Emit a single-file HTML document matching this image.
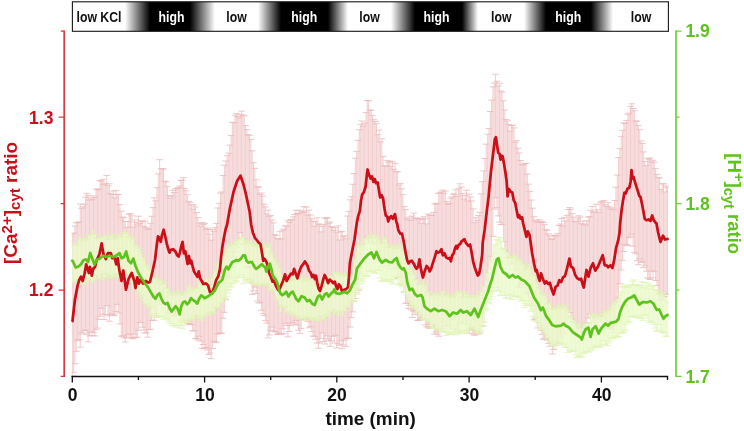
<!DOCTYPE html>
<html><head><meta charset="utf-8"><title>KCl ratio chart</title>
<style>html,body{margin:0;padding:0;background:#fff}body{width:744px;height:431px;position:relative;overflow:hidden}</style>
</head><body>
<svg width="744" height="431" viewBox="0 0 744 431" style="position:absolute;left:0;top:0">
<defs><linearGradient id="kcl" gradientUnits="userSpaceOnUse" x1="72" y1="0" x2="669" y2="0">
<stop offset="0.0000" stop-color="#fff"/>
<stop offset="0.0888" stop-color="#fff"/>
<stop offset="0.1307" stop-color="#000"/>
<stop offset="0.1977" stop-color="#000"/>
<stop offset="0.2395" stop-color="#fff"/>
<stop offset="0.3116" stop-color="#fff"/>
<stop offset="0.3501" stop-color="#000"/>
<stop offset="0.4288" stop-color="#000"/>
<stop offset="0.4623" stop-color="#fff"/>
<stop offset="0.5343" stop-color="#fff"/>
<stop offset="0.5745" stop-color="#000"/>
<stop offset="0.6533" stop-color="#000"/>
<stop offset="0.6801" stop-color="#fff"/>
<stop offset="0.7571" stop-color="#fff"/>
<stop offset="0.7940" stop-color="#000"/>
<stop offset="0.8693" stop-color="#000"/>
<stop offset="0.9062" stop-color="#fff"/>
<stop offset="1.0000" stop-color="#fff"/>
</linearGradient><clipPath id="pc"><rect x="71.6" y="32" width="597" height="345"/></clipPath></defs>
<rect x="72.4" y="1.8" width="596" height="29.5" fill="url(#kcl)" stroke="#161616" stroke-width="1.1"/>
<g clip-path="url(#pc)">
<path d="M72.30 233.8V376.0M73.62 233.0V372.3M74.95 226.1V363.7M76.27 222.6V351.4M77.59 222.8V340.7M78.91 221.8V339.5M80.24 204.1V347.2M81.56 208.3V332.7M82.88 206.9V334.1M84.20 204.1V330.1M85.53 197.2V330.6M86.85 193.3V334.1M88.17 195.4V341.8M89.49 200.0V336.0M90.82 198.0V332.1M92.14 199.6V335.6M93.46 196.0V332.4M94.79 197.5V335.9M96.11 189.1V329.7M97.43 189.8V328.1M98.75 189.1V319.4M100.08 180.6V316.2M101.40 181.1V308.2M102.72 179.3V314.2M104.04 184.6V319.5M105.37 183.3V314.6M106.69 175.4V305.7M108.01 185.7V315.8M109.33 183.8V321.2M110.66 193.3V314.2M111.98 194.5V314.2M113.30 191.0V314.9M114.63 197.9V315.7M115.95 190.4V311.5M117.27 194.4V304.3M118.59 194.6V313.0M119.92 204.6V323.9M121.24 211.2V336.2M122.56 217.0V335.9M123.88 217.7V337.9M125.21 221.5V342.0M126.53 227.4V337.9M127.85 221.5V334.9M129.17 214.3V334.1M130.50 213.6V337.2M131.82 215.8V338.3M133.14 227.2V338.8M134.47 219.9V334.1M135.79 222.3V337.5M137.11 224.9V337.2M138.43 216.2V330.2M139.76 223.4V322.6M141.08 220.9V322.4M142.40 221.2V327.3M143.72 226.4V330.0M145.05 221.3V333.1M146.37 227.7V332.7M147.69 229.1V337.2M149.01 229.0V329.7M150.34 223.3V329.3M151.66 216.3V320.4M152.98 207.6V307.9M154.31 197.8V320.3M155.63 200.8V313.3M156.95 187.7V315.9M158.27 173.8V301.3M159.60 159.7V304.0M160.92 168.8V295.1M162.24 168.7V291.6M163.56 169.0V296.0M164.89 181.2V302.3M166.21 181.8V303.6M167.53 186.3V312.5M168.85 195.6V313.6M170.18 198.1V316.1M171.50 196.1V307.0M172.82 190.4V313.6M174.15 192.5V316.3M175.47 188.9V314.2M176.79 188.5V313.1M178.11 187.6V314.9M179.44 186.1V315.8M180.76 180.5V320.2M182.08 180.1V321.6M183.40 177.6V319.2M184.73 188.4V319.4M186.05 190.7V320.8M187.37 194.7V323.9M188.69 201.3V323.5M190.02 202.4V324.6M191.34 204.8V324.6M192.66 209.2V330.7M193.99 204.9V331.0M195.31 206.9V338.7M196.63 212.6V338.4M197.95 217.7V340.0M199.28 223.6V336.3M200.60 226.3V341.1M201.92 222.4V348.3M203.24 224.4V344.5M204.57 223.4V348.6M205.89 229.3V347.5M207.21 228.0V350.0M208.53 229.4V354.5M209.86 234.2V353.1M211.18 240.2V358.6M212.50 229.3V348.5M213.83 231.3V341.3M215.15 227.7V342.6M216.47 223.4V342.1M217.79 208.0V334.2M219.12 203.2V333.1M220.44 193.0V333.1M221.76 191.9V333.3M223.08 175.5V318.4M224.41 165.3V312.3M225.73 161.0V299.7M227.05 155.7V290.0M228.37 153.1V283.8M229.70 145.1V277.7M231.02 135.6V277.1M232.34 122.3V267.8M233.67 122.7V262.8M234.99 115.2V256.6M236.31 113.6V251.9M237.63 116.4V247.9M238.96 117.8V244.7M240.28 114.3V232.7M241.60 111.2V237.9M242.92 115.0V243.9M244.25 115.8V256.5M245.57 125.6V261.3M246.89 129.7V267.2M248.21 134.7V267.0M249.54 135.3V279.2M250.86 139.6V282.8M252.18 150.8V294.4M253.51 162.7V290.8M254.83 168.4V287.0M256.15 179.7V293.5M257.47 186.9V301.1M258.80 187.0V303.0M260.12 194.5V302.7M261.44 193.0V310.2M262.76 196.1V313.7M264.09 204.2V315.7M265.41 206.9V320.6M266.73 214.0V323.1M268.05 210.2V338.0M269.38 216.7V334.9M270.70 215.4V330.3M272.02 220.1V327.1M273.35 222.8V331.1M274.67 234.8V331.6M275.99 235.2V332.1M277.31 238.6V334.5M278.64 239.0V333.6M279.96 231.7V333.5M281.28 238.9V334.6M282.60 230.2V328.8M283.93 229.1V333.6M285.25 225.6V323.3M286.57 226.5V325.4M287.89 220.7V336.8M289.22 222.3V331.5M290.54 219.8V325.6M291.86 219.7V322.9M293.19 216.8V322.6M294.51 214.4V324.3M295.83 210.3V320.4M297.15 213.5V325.0M298.48 213.8V330.3M299.80 210.2V333.4M301.12 212.2V328.4M302.44 211.3V315.9M303.77 206.7V320.0M305.09 212.2V319.1M306.41 207.1V316.9M307.73 215.0V321.6M309.06 210.2V327.8M310.38 214.9V326.6M311.70 218.8V331.6M313.03 221.3V336.0M314.35 226.2V336.6M315.67 221.8V339.3M316.99 217.9V343.0M318.32 224.0V348.3M319.64 224.3V342.8M320.96 231.9V338.4M322.28 226.4V333.0M323.61 224.7V341.5M324.93 218.3V344.0M326.25 217.9V335.9M327.57 217.8V339.0M328.90 223.2V340.4M330.22 221.9V346.4M331.54 226.6V341.0M332.87 227.4V336.3M334.19 230.1V343.1M335.51 227.6V335.3M336.83 232.2V347.9M338.16 225.8V343.9M339.48 240.0V345.1M340.80 231.3V340.8M342.12 231.8V348.7M343.45 236.6V344.9M344.77 235.8V340.1M346.09 238.7V346.5M347.41 216.0V338.3M348.74 211.3V338.2M350.06 199.8V327.0M351.38 196.7V317.6M352.71 184.3V311.9M354.03 173.5V301.2M355.35 158.2V298.5M356.67 151.4V292.8M358.00 140.4V290.6M359.32 129.7V280.0M360.64 124.4V274.2M361.96 121.0V262.7M363.29 126.2V254.1M364.61 123.1V249.7M365.93 112.6V243.4M367.25 100.5V236.6M368.58 100.8V242.3M369.90 110.4V240.8M371.22 110.1V242.7M372.55 115.3V243.1M373.87 119.7V244.6M375.19 121.5V242.1M376.51 123.7V249.8M377.84 134.6V251.8M379.16 130.1V260.3M380.48 141.8V257.3M381.80 138.8V266.3M383.13 156.4V261.5M384.45 166.1V258.1M385.77 165.8V258.7M387.09 160.7V265.8M388.42 162.1V262.2M389.74 161.1V269.0M391.06 166.4V263.7M392.39 161.8V262.7M393.71 169.3V268.7M395.03 163.3V264.7M396.35 171.9V267.7M397.68 171.7V278.5M399.00 185.1V276.8M400.32 183.4V283.7M401.64 188.8V281.6M402.97 194.6V285.4M404.29 206.6V292.2M405.61 209.6V303.2M406.93 218.3V303.7M408.26 219.9V308.6M409.58 217.0V305.6M410.90 220.3V310.1M412.23 216.0V317.5M413.55 213.1V311.3M414.87 218.1V314.6M416.19 218.1V312.7M417.52 218.5V320.6M418.84 219.7V320.1M420.16 218.2V319.8M421.48 223.3V318.7M422.81 219.5V317.7M424.13 216.7V318.4M425.45 218.3V324.8M426.77 223.9V326.4M428.10 214.0V327.6M429.42 215.2V328.3M430.74 215.2V323.2M432.07 215.5V324.2M433.39 212.5V327.0M434.71 204.1V334.1M436.03 203.3V331.9M437.36 203.8V334.2M438.68 193.5V336.2M440.00 192.7V328.6M441.32 191.9V326.9M442.65 190.1V328.3M443.97 193.3V328.5M445.29 191.1V325.9M446.61 201.7V326.0M447.94 204.3V325.3M449.26 203.4V325.9M450.58 198.2V328.0M451.91 197.0V320.0M453.23 193.8V329.2M454.55 194.4V319.2M455.87 189.9V328.9M457.20 196.4V330.6M458.52 188.7V330.4M459.84 183.8V323.7M461.16 187.0V313.6M462.49 193.7V322.5M463.81 199.3V322.9M465.13 195.4V321.0M466.45 190.2V329.5M467.78 200.9V324.8M469.10 194.0V333.1M470.42 197.0V328.7M471.75 200.9V330.3M473.07 208.9V334.1M474.39 222.7V335.3M475.71 217.8V332.5M477.04 220.4V331.6M478.36 215.6V334.1M479.68 212.4V332.8M481.00 193.8V326.7M482.33 181.7V325.9M483.65 170.9V322.0M484.97 158.5V301.5M486.29 144.2V290.7M487.62 134.3V287.5M488.94 128.6V280.4M490.26 111.5V270.3M491.59 100.2V256.3M492.91 86.9V236.3M494.23 83.0V209.1M495.55 74.3V197.6M496.88 81.3V207.6M498.20 85.9V215.9M499.52 83.2V222.2M500.84 90.9V224.6M502.17 92.0V224.4M503.49 100.8V241.6M504.81 110.1V250.4M506.13 119.5V257.8M507.46 120.9V264.2M508.78 124.3V258.4M510.10 131.0V257.3M511.43 125.5V261.6M512.75 125.3V263.6M514.07 127.9V269.5M515.39 142.2V269.7M516.72 140.7V271.8M518.04 148.3V287.0M519.36 153.0V287.5M520.68 160.5V283.9M522.01 164.8V284.1M523.33 164.9V281.6M524.65 163.3V284.0M525.97 163.5V292.1M527.30 174.1V293.8M528.62 184.2V300.9M529.94 191.6V293.5M531.27 200.1V303.8M532.59 208.2V306.1M533.91 216.7V320.0M535.23 220.2V319.3M536.56 221.9V318.2M537.88 221.9V328.0M539.20 219.7V323.0M540.52 221.3V330.1M541.85 221.7V334.6M543.17 222.5V339.0M544.49 224.6V339.1M545.81 229.4V338.0M547.14 230.4V340.0M548.46 233.9V343.4M549.78 235.9V346.2M551.11 239.5V341.1M552.43 238.7V354.0M553.75 235.2V349.5M555.07 236.2V345.4M556.40 235.6V340.9M557.72 233.4V343.3M559.04 225.5V338.9M560.36 224.1V336.1M561.69 218.5V337.3M563.01 226.1V331.7M564.33 217.3V333.8M565.65 221.0V326.8M566.98 215.4V326.6M568.30 209.5V318.3M569.62 207.6V312.5M570.95 209.3V316.4M572.27 213.6V319.3M573.59 217.1V322.8M574.91 221.3V328.5M576.24 221.8V331.0M577.56 218.9V327.5M578.88 215.8V331.4M580.20 217.1V331.3M581.53 223.8V337.2M582.85 221.0V333.1M584.17 224.1V326.9M585.49 225.0V323.7M586.82 220.9V322.6M588.14 217.0V318.0M589.46 216.6V314.1M590.79 210.3V317.0M592.11 206.5V318.8M593.43 212.1V321.1M594.75 211.9V325.0M596.08 204.6V322.8M597.40 209.8V315.4M598.72 212.5V319.7M600.04 202.9V316.1M601.37 201.3V319.9M602.69 201.9V316.8M604.01 200.6V316.1M605.33 204.8V322.8M606.66 206.2V320.4M607.98 202.7V328.4M609.30 206.8V328.2M610.63 209.0V328.6M611.95 207.9V329.1M613.27 209.7V332.6M614.59 200.5V325.9M615.92 187.2V320.9M617.24 175.1V304.9M618.56 157.6V297.8M619.88 148.6V283.8M621.21 136.4V269.9M622.53 130.4V260.3M623.85 122.8V251.5M625.17 123.4V245.2M626.50 120.4V244.2M627.82 114.3V245.4M629.14 113.1V237.8M630.47 106.3V236.6M631.79 103.8V234.3M633.11 108.5V246.3M634.43 110.8V252.4M635.76 120.8V253.8M637.08 121.3V260.7M638.40 125.6V264.6M639.72 129.7V258.9M641.05 140.9V262.4M642.37 143.4V261.4M643.69 151.9V267.7M645.01 161.5V265.8M646.34 165.7V271.2M647.66 158.3V277.8M648.98 159.1V278.8M650.31 158.1V279.5M651.63 161.9V270.9M652.95 160.3V277.9M654.27 162.4V271.7M655.60 168.7V280.5M656.92 174.4V285.6M658.24 177.5V294.9M659.56 177.9V299.8M660.89 189.5V306.5M662.21 183.8V299.7M663.53 183.8V296.8M664.85 191.9V297.0M666.18 186.0V294.0M667.50 187.3V294.6" fill="none" stroke="#f3cfcf" stroke-width="1.05"/>
<path d="M69.00 233.8h6.6M69.00 376.0h6.6M70.32 233.0h6.6M70.32 372.3h6.6M71.65 226.1h6.6M71.65 363.7h6.6M72.97 222.6h6.6M72.97 351.4h6.6M74.29 222.8h6.6M74.29 340.7h6.6M75.61 221.8h6.6M75.61 339.5h6.6M76.94 204.1h6.6M76.94 347.2h6.6M78.26 208.3h6.6M78.26 332.7h6.6M79.58 206.9h6.6M79.58 334.1h6.6M80.90 204.1h6.6M80.90 330.1h6.6M82.23 197.2h6.6M82.23 330.6h6.6M83.55 193.3h6.6M83.55 334.1h6.6M84.87 195.4h6.6M84.87 341.8h6.6M86.19 200.0h6.6M86.19 336.0h6.6M87.52 198.0h6.6M87.52 332.1h6.6M88.84 199.6h6.6M88.84 335.6h6.6M90.16 196.0h6.6M90.16 332.4h6.6M91.49 197.5h6.6M91.49 335.9h6.6M92.81 189.1h6.6M92.81 329.7h6.6M94.13 189.8h6.6M94.13 328.1h6.6M95.45 189.1h6.6M95.45 319.4h6.6M96.78 180.6h6.6M96.78 316.2h6.6M98.10 181.1h6.6M98.10 308.2h6.6M99.42 179.3h6.6M99.42 314.2h6.6M100.74 184.6h6.6M100.74 319.5h6.6M102.07 183.3h6.6M102.07 314.6h6.6M103.39 175.4h6.6M103.39 305.7h6.6M104.71 185.7h6.6M104.71 315.8h6.6M106.03 183.8h6.6M106.03 321.2h6.6M107.36 193.3h6.6M107.36 314.2h6.6M108.68 194.5h6.6M108.68 314.2h6.6M110.00 191.0h6.6M110.00 314.9h6.6M111.33 197.9h6.6M111.33 315.7h6.6M112.65 190.4h6.6M112.65 311.5h6.6M113.97 194.4h6.6M113.97 304.3h6.6M115.29 194.6h6.6M115.29 313.0h6.6M116.62 204.6h6.6M116.62 323.9h6.6M117.94 211.2h6.6M117.94 336.2h6.6M119.26 217.0h6.6M119.26 335.9h6.6M120.58 217.7h6.6M120.58 337.9h6.6M121.91 221.5h6.6M121.91 342.0h6.6M123.23 227.4h6.6M123.23 337.9h6.6M124.55 221.5h6.6M124.55 334.9h6.6M125.87 214.3h6.6M125.87 334.1h6.6M127.20 213.6h6.6M127.20 337.2h6.6M128.52 215.8h6.6M128.52 338.3h6.6M129.84 227.2h6.6M129.84 338.8h6.6M131.17 219.9h6.6M131.17 334.1h6.6M132.49 222.3h6.6M132.49 337.5h6.6M133.81 224.9h6.6M133.81 337.2h6.6M135.13 216.2h6.6M135.13 330.2h6.6M136.46 223.4h6.6M136.46 322.6h6.6M137.78 220.9h6.6M137.78 322.4h6.6M139.10 221.2h6.6M139.10 327.3h6.6M140.42 226.4h6.6M140.42 330.0h6.6M141.75 221.3h6.6M141.75 333.1h6.6M143.07 227.7h6.6M143.07 332.7h6.6M144.39 229.1h6.6M144.39 337.2h6.6M145.71 229.0h6.6M145.71 329.7h6.6M147.04 223.3h6.6M147.04 329.3h6.6M148.36 216.3h6.6M148.36 320.4h6.6M149.68 207.6h6.6M149.68 307.9h6.6M151.01 197.8h6.6M151.01 320.3h6.6M152.33 200.8h6.6M152.33 313.3h6.6M153.65 187.7h6.6M153.65 315.9h6.6M154.97 173.8h6.6M154.97 301.3h6.6M156.30 159.7h6.6M156.30 304.0h6.6M157.62 168.8h6.6M157.62 295.1h6.6M158.94 168.7h6.6M158.94 291.6h6.6M160.26 169.0h6.6M160.26 296.0h6.6M161.59 181.2h6.6M161.59 302.3h6.6M162.91 181.8h6.6M162.91 303.6h6.6M164.23 186.3h6.6M164.23 312.5h6.6M165.55 195.6h6.6M165.55 313.6h6.6M166.88 198.1h6.6M166.88 316.1h6.6M168.20 196.1h6.6M168.20 307.0h6.6M169.52 190.4h6.6M169.52 313.6h6.6M170.85 192.5h6.6M170.85 316.3h6.6M172.17 188.9h6.6M172.17 314.2h6.6M173.49 188.5h6.6M173.49 313.1h6.6M174.81 187.6h6.6M174.81 314.9h6.6M176.14 186.1h6.6M176.14 315.8h6.6M177.46 180.5h6.6M177.46 320.2h6.6M178.78 180.1h6.6M178.78 321.6h6.6M180.10 177.6h6.6M180.10 319.2h6.6M181.43 188.4h6.6M181.43 319.4h6.6M182.75 190.7h6.6M182.75 320.8h6.6M184.07 194.7h6.6M184.07 323.9h6.6M185.39 201.3h6.6M185.39 323.5h6.6M186.72 202.4h6.6M186.72 324.6h6.6M188.04 204.8h6.6M188.04 324.6h6.6M189.36 209.2h6.6M189.36 330.7h6.6M190.69 204.9h6.6M190.69 331.0h6.6M192.01 206.9h6.6M192.01 338.7h6.6M193.33 212.6h6.6M193.33 338.4h6.6M194.65 217.7h6.6M194.65 340.0h6.6M195.98 223.6h6.6M195.98 336.3h6.6M197.30 226.3h6.6M197.30 341.1h6.6M198.62 222.4h6.6M198.62 348.3h6.6M199.94 224.4h6.6M199.94 344.5h6.6M201.27 223.4h6.6M201.27 348.6h6.6M202.59 229.3h6.6M202.59 347.5h6.6M203.91 228.0h6.6M203.91 350.0h6.6M205.23 229.4h6.6M205.23 354.5h6.6M206.56 234.2h6.6M206.56 353.1h6.6M207.88 240.2h6.6M207.88 358.6h6.6M209.20 229.3h6.6M209.20 348.5h6.6M210.53 231.3h6.6M210.53 341.3h6.6M211.85 227.7h6.6M211.85 342.6h6.6M213.17 223.4h6.6M213.17 342.1h6.6M214.49 208.0h6.6M214.49 334.2h6.6M215.82 203.2h6.6M215.82 333.1h6.6M217.14 193.0h6.6M217.14 333.1h6.6M218.46 191.9h6.6M218.46 333.3h6.6M219.78 175.5h6.6M219.78 318.4h6.6M221.11 165.3h6.6M221.11 312.3h6.6M222.43 161.0h6.6M222.43 299.7h6.6M223.75 155.7h6.6M223.75 290.0h6.6M225.07 153.1h6.6M225.07 283.8h6.6M226.40 145.1h6.6M226.40 277.7h6.6M227.72 135.6h6.6M227.72 277.1h6.6M229.04 122.3h6.6M229.04 267.8h6.6M230.37 122.7h6.6M230.37 262.8h6.6M231.69 115.2h6.6M231.69 256.6h6.6M233.01 113.6h6.6M233.01 251.9h6.6M234.33 116.4h6.6M234.33 247.9h6.6M235.66 117.8h6.6M235.66 244.7h6.6M236.98 114.3h6.6M236.98 232.7h6.6M238.30 111.2h6.6M238.30 237.9h6.6M239.62 115.0h6.6M239.62 243.9h6.6M240.95 115.8h6.6M240.95 256.5h6.6M242.27 125.6h6.6M242.27 261.3h6.6M243.59 129.7h6.6M243.59 267.2h6.6M244.91 134.7h6.6M244.91 267.0h6.6M246.24 135.3h6.6M246.24 279.2h6.6M247.56 139.6h6.6M247.56 282.8h6.6M248.88 150.8h6.6M248.88 294.4h6.6M250.21 162.7h6.6M250.21 290.8h6.6M251.53 168.4h6.6M251.53 287.0h6.6M252.85 179.7h6.6M252.85 293.5h6.6M254.17 186.9h6.6M254.17 301.1h6.6M255.50 187.0h6.6M255.50 303.0h6.6M256.82 194.5h6.6M256.82 302.7h6.6M258.14 193.0h6.6M258.14 310.2h6.6M259.46 196.1h6.6M259.46 313.7h6.6M260.79 204.2h6.6M260.79 315.7h6.6M262.11 206.9h6.6M262.11 320.6h6.6M263.43 214.0h6.6M263.43 323.1h6.6M264.75 210.2h6.6M264.75 338.0h6.6M266.08 216.7h6.6M266.08 334.9h6.6M267.40 215.4h6.6M267.40 330.3h6.6M268.72 220.1h6.6M268.72 327.1h6.6M270.05 222.8h6.6M270.05 331.1h6.6M271.37 234.8h6.6M271.37 331.6h6.6M272.69 235.2h6.6M272.69 332.1h6.6M274.01 238.6h6.6M274.01 334.5h6.6M275.34 239.0h6.6M275.34 333.6h6.6M276.66 231.7h6.6M276.66 333.5h6.6M277.98 238.9h6.6M277.98 334.6h6.6M279.30 230.2h6.6M279.30 328.8h6.6M280.63 229.1h6.6M280.63 333.6h6.6M281.95 225.6h6.6M281.95 323.3h6.6M283.27 226.5h6.6M283.27 325.4h6.6M284.59 220.7h6.6M284.59 336.8h6.6M285.92 222.3h6.6M285.92 331.5h6.6M287.24 219.8h6.6M287.24 325.6h6.6M288.56 219.7h6.6M288.56 322.9h6.6M289.89 216.8h6.6M289.89 322.6h6.6M291.21 214.4h6.6M291.21 324.3h6.6M292.53 210.3h6.6M292.53 320.4h6.6M293.85 213.5h6.6M293.85 325.0h6.6M295.18 213.8h6.6M295.18 330.3h6.6M296.50 210.2h6.6M296.50 333.4h6.6M297.82 212.2h6.6M297.82 328.4h6.6M299.14 211.3h6.6M299.14 315.9h6.6M300.47 206.7h6.6M300.47 320.0h6.6M301.79 212.2h6.6M301.79 319.1h6.6M303.11 207.1h6.6M303.11 316.9h6.6M304.43 215.0h6.6M304.43 321.6h6.6M305.76 210.2h6.6M305.76 327.8h6.6M307.08 214.9h6.6M307.08 326.6h6.6M308.40 218.8h6.6M308.40 331.6h6.6M309.73 221.3h6.6M309.73 336.0h6.6M311.05 226.2h6.6M311.05 336.6h6.6M312.37 221.8h6.6M312.37 339.3h6.6M313.69 217.9h6.6M313.69 343.0h6.6M315.02 224.0h6.6M315.02 348.3h6.6M316.34 224.3h6.6M316.34 342.8h6.6M317.66 231.9h6.6M317.66 338.4h6.6M318.98 226.4h6.6M318.98 333.0h6.6M320.31 224.7h6.6M320.31 341.5h6.6M321.63 218.3h6.6M321.63 344.0h6.6M322.95 217.9h6.6M322.95 335.9h6.6M324.27 217.8h6.6M324.27 339.0h6.6M325.60 223.2h6.6M325.60 340.4h6.6M326.92 221.9h6.6M326.92 346.4h6.6M328.24 226.6h6.6M328.24 341.0h6.6M329.57 227.4h6.6M329.57 336.3h6.6M330.89 230.1h6.6M330.89 343.1h6.6M332.21 227.6h6.6M332.21 335.3h6.6M333.53 232.2h6.6M333.53 347.9h6.6M334.86 225.8h6.6M334.86 343.9h6.6M336.18 240.0h6.6M336.18 345.1h6.6M337.50 231.3h6.6M337.50 340.8h6.6M338.82 231.8h6.6M338.82 348.7h6.6M340.15 236.6h6.6M340.15 344.9h6.6M341.47 235.8h6.6M341.47 340.1h6.6M342.79 238.7h6.6M342.79 346.5h6.6M344.11 216.0h6.6M344.11 338.3h6.6M345.44 211.3h6.6M345.44 338.2h6.6M346.76 199.8h6.6M346.76 327.0h6.6M348.08 196.7h6.6M348.08 317.6h6.6M349.41 184.3h6.6M349.41 311.9h6.6M350.73 173.5h6.6M350.73 301.2h6.6M352.05 158.2h6.6M352.05 298.5h6.6M353.37 151.4h6.6M353.37 292.8h6.6M354.70 140.4h6.6M354.70 290.6h6.6M356.02 129.7h6.6M356.02 280.0h6.6M357.34 124.4h6.6M357.34 274.2h6.6M358.66 121.0h6.6M358.66 262.7h6.6M359.99 126.2h6.6M359.99 254.1h6.6M361.31 123.1h6.6M361.31 249.7h6.6M362.63 112.6h6.6M362.63 243.4h6.6M363.95 100.5h6.6M363.95 236.6h6.6M365.28 100.8h6.6M365.28 242.3h6.6M366.60 110.4h6.6M366.60 240.8h6.6M367.92 110.1h6.6M367.92 242.7h6.6M369.25 115.3h6.6M369.25 243.1h6.6M370.57 119.7h6.6M370.57 244.6h6.6M371.89 121.5h6.6M371.89 242.1h6.6M373.21 123.7h6.6M373.21 249.8h6.6M374.54 134.6h6.6M374.54 251.8h6.6M375.86 130.1h6.6M375.86 260.3h6.6M377.18 141.8h6.6M377.18 257.3h6.6M378.50 138.8h6.6M378.50 266.3h6.6M379.83 156.4h6.6M379.83 261.5h6.6M381.15 166.1h6.6M381.15 258.1h6.6M382.47 165.8h6.6M382.47 258.7h6.6M383.79 160.7h6.6M383.79 265.8h6.6M385.12 162.1h6.6M385.12 262.2h6.6M386.44 161.1h6.6M386.44 269.0h6.6M387.76 166.4h6.6M387.76 263.7h6.6M389.09 161.8h6.6M389.09 262.7h6.6M390.41 169.3h6.6M390.41 268.7h6.6M391.73 163.3h6.6M391.73 264.7h6.6M393.05 171.9h6.6M393.05 267.7h6.6M394.38 171.7h6.6M394.38 278.5h6.6M395.70 185.1h6.6M395.70 276.8h6.6M397.02 183.4h6.6M397.02 283.7h6.6M398.34 188.8h6.6M398.34 281.6h6.6M399.67 194.6h6.6M399.67 285.4h6.6M400.99 206.6h6.6M400.99 292.2h6.6M402.31 209.6h6.6M402.31 303.2h6.6M403.63 218.3h6.6M403.63 303.7h6.6M404.96 219.9h6.6M404.96 308.6h6.6M406.28 217.0h6.6M406.28 305.6h6.6M407.60 220.3h6.6M407.60 310.1h6.6M408.93 216.0h6.6M408.93 317.5h6.6M410.25 213.1h6.6M410.25 311.3h6.6M411.57 218.1h6.6M411.57 314.6h6.6M412.89 218.1h6.6M412.89 312.7h6.6M414.22 218.5h6.6M414.22 320.6h6.6M415.54 219.7h6.6M415.54 320.1h6.6M416.86 218.2h6.6M416.86 319.8h6.6M418.18 223.3h6.6M418.18 318.7h6.6M419.51 219.5h6.6M419.51 317.7h6.6M420.83 216.7h6.6M420.83 318.4h6.6M422.15 218.3h6.6M422.15 324.8h6.6M423.47 223.9h6.6M423.47 326.4h6.6M424.80 214.0h6.6M424.80 327.6h6.6M426.12 215.2h6.6M426.12 328.3h6.6M427.44 215.2h6.6M427.44 323.2h6.6M428.77 215.5h6.6M428.77 324.2h6.6M430.09 212.5h6.6M430.09 327.0h6.6M431.41 204.1h6.6M431.41 334.1h6.6M432.73 203.3h6.6M432.73 331.9h6.6M434.06 203.8h6.6M434.06 334.2h6.6M435.38 193.5h6.6M435.38 336.2h6.6M436.70 192.7h6.6M436.70 328.6h6.6M438.02 191.9h6.6M438.02 326.9h6.6M439.35 190.1h6.6M439.35 328.3h6.6M440.67 193.3h6.6M440.67 328.5h6.6M441.99 191.1h6.6M441.99 325.9h6.6M443.31 201.7h6.6M443.31 326.0h6.6M444.64 204.3h6.6M444.64 325.3h6.6M445.96 203.4h6.6M445.96 325.9h6.6M447.28 198.2h6.6M447.28 328.0h6.6M448.61 197.0h6.6M448.61 320.0h6.6M449.93 193.8h6.6M449.93 329.2h6.6M451.25 194.4h6.6M451.25 319.2h6.6M452.57 189.9h6.6M452.57 328.9h6.6M453.90 196.4h6.6M453.90 330.6h6.6M455.22 188.7h6.6M455.22 330.4h6.6M456.54 183.8h6.6M456.54 323.7h6.6M457.86 187.0h6.6M457.86 313.6h6.6M459.19 193.7h6.6M459.19 322.5h6.6M460.51 199.3h6.6M460.51 322.9h6.6M461.83 195.4h6.6M461.83 321.0h6.6M463.15 190.2h6.6M463.15 329.5h6.6M464.48 200.9h6.6M464.48 324.8h6.6M465.80 194.0h6.6M465.80 333.1h6.6M467.12 197.0h6.6M467.12 328.7h6.6M468.45 200.9h6.6M468.45 330.3h6.6M469.77 208.9h6.6M469.77 334.1h6.6M471.09 222.7h6.6M471.09 335.3h6.6M472.41 217.8h6.6M472.41 332.5h6.6M473.74 220.4h6.6M473.74 331.6h6.6M475.06 215.6h6.6M475.06 334.1h6.6M476.38 212.4h6.6M476.38 332.8h6.6M477.70 193.8h6.6M477.70 326.7h6.6M479.03 181.7h6.6M479.03 325.9h6.6M480.35 170.9h6.6M480.35 322.0h6.6M481.67 158.5h6.6M481.67 301.5h6.6M482.99 144.2h6.6M482.99 290.7h6.6M484.32 134.3h6.6M484.32 287.5h6.6M485.64 128.6h6.6M485.64 280.4h6.6M486.96 111.5h6.6M486.96 270.3h6.6M488.29 100.2h6.6M488.29 256.3h6.6M489.61 86.9h6.6M489.61 236.3h6.6M490.93 83.0h6.6M490.93 209.1h6.6M492.25 74.3h6.6M492.25 197.6h6.6M493.58 81.3h6.6M493.58 207.6h6.6M494.90 85.9h6.6M494.90 215.9h6.6M496.22 83.2h6.6M496.22 222.2h6.6M497.54 90.9h6.6M497.54 224.6h6.6M498.87 92.0h6.6M498.87 224.4h6.6M500.19 100.8h6.6M500.19 241.6h6.6M501.51 110.1h6.6M501.51 250.4h6.6M502.83 119.5h6.6M502.83 257.8h6.6M504.16 120.9h6.6M504.16 264.2h6.6M505.48 124.3h6.6M505.48 258.4h6.6M506.80 131.0h6.6M506.80 257.3h6.6M508.13 125.5h6.6M508.13 261.6h6.6M509.45 125.3h6.6M509.45 263.6h6.6M510.77 127.9h6.6M510.77 269.5h6.6M512.09 142.2h6.6M512.09 269.7h6.6M513.42 140.7h6.6M513.42 271.8h6.6M514.74 148.3h6.6M514.74 287.0h6.6M516.06 153.0h6.6M516.06 287.5h6.6M517.38 160.5h6.6M517.38 283.9h6.6M518.71 164.8h6.6M518.71 284.1h6.6M520.03 164.9h6.6M520.03 281.6h6.6M521.35 163.3h6.6M521.35 284.0h6.6M522.67 163.5h6.6M522.67 292.1h6.6M524.00 174.1h6.6M524.00 293.8h6.6M525.32 184.2h6.6M525.32 300.9h6.6M526.64 191.6h6.6M526.64 293.5h6.6M527.97 200.1h6.6M527.97 303.8h6.6M529.29 208.2h6.6M529.29 306.1h6.6M530.61 216.7h6.6M530.61 320.0h6.6M531.93 220.2h6.6M531.93 319.3h6.6M533.26 221.9h6.6M533.26 318.2h6.6M534.58 221.9h6.6M534.58 328.0h6.6M535.90 219.7h6.6M535.90 323.0h6.6M537.22 221.3h6.6M537.22 330.1h6.6M538.55 221.7h6.6M538.55 334.6h6.6M539.87 222.5h6.6M539.87 339.0h6.6M541.19 224.6h6.6M541.19 339.1h6.6M542.51 229.4h6.6M542.51 338.0h6.6M543.84 230.4h6.6M543.84 340.0h6.6M545.16 233.9h6.6M545.16 343.4h6.6M546.48 235.9h6.6M546.48 346.2h6.6M547.81 239.5h6.6M547.81 341.1h6.6M549.13 238.7h6.6M549.13 354.0h6.6M550.45 235.2h6.6M550.45 349.5h6.6M551.77 236.2h6.6M551.77 345.4h6.6M553.10 235.6h6.6M553.10 340.9h6.6M554.42 233.4h6.6M554.42 343.3h6.6M555.74 225.5h6.6M555.74 338.9h6.6M557.06 224.1h6.6M557.06 336.1h6.6M558.39 218.5h6.6M558.39 337.3h6.6M559.71 226.1h6.6M559.71 331.7h6.6M561.03 217.3h6.6M561.03 333.8h6.6M562.35 221.0h6.6M562.35 326.8h6.6M563.68 215.4h6.6M563.68 326.6h6.6M565.00 209.5h6.6M565.00 318.3h6.6M566.32 207.6h6.6M566.32 312.5h6.6M567.65 209.3h6.6M567.65 316.4h6.6M568.97 213.6h6.6M568.97 319.3h6.6M570.29 217.1h6.6M570.29 322.8h6.6M571.61 221.3h6.6M571.61 328.5h6.6M572.94 221.8h6.6M572.94 331.0h6.6M574.26 218.9h6.6M574.26 327.5h6.6M575.58 215.8h6.6M575.58 331.4h6.6M576.90 217.1h6.6M576.90 331.3h6.6M578.23 223.8h6.6M578.23 337.2h6.6M579.55 221.0h6.6M579.55 333.1h6.6M580.87 224.1h6.6M580.87 326.9h6.6M582.19 225.0h6.6M582.19 323.7h6.6M583.52 220.9h6.6M583.52 322.6h6.6M584.84 217.0h6.6M584.84 318.0h6.6M586.16 216.6h6.6M586.16 314.1h6.6M587.49 210.3h6.6M587.49 317.0h6.6M588.81 206.5h6.6M588.81 318.8h6.6M590.13 212.1h6.6M590.13 321.1h6.6M591.45 211.9h6.6M591.45 325.0h6.6M592.78 204.6h6.6M592.78 322.8h6.6M594.10 209.8h6.6M594.10 315.4h6.6M595.42 212.5h6.6M595.42 319.7h6.6M596.74 202.9h6.6M596.74 316.1h6.6M598.07 201.3h6.6M598.07 319.9h6.6M599.39 201.9h6.6M599.39 316.8h6.6M600.71 200.6h6.6M600.71 316.1h6.6M602.03 204.8h6.6M602.03 322.8h6.6M603.36 206.2h6.6M603.36 320.4h6.6M604.68 202.7h6.6M604.68 328.4h6.6M606.00 206.8h6.6M606.00 328.2h6.6M607.33 209.0h6.6M607.33 328.6h6.6M608.65 207.9h6.6M608.65 329.1h6.6M609.97 209.7h6.6M609.97 332.6h6.6M611.29 200.5h6.6M611.29 325.9h6.6M612.62 187.2h6.6M612.62 320.9h6.6M613.94 175.1h6.6M613.94 304.9h6.6M615.26 157.6h6.6M615.26 297.8h6.6M616.58 148.6h6.6M616.58 283.8h6.6M617.91 136.4h6.6M617.91 269.9h6.6M619.23 130.4h6.6M619.23 260.3h6.6M620.55 122.8h6.6M620.55 251.5h6.6M621.87 123.4h6.6M621.87 245.2h6.6M623.20 120.4h6.6M623.20 244.2h6.6M624.52 114.3h6.6M624.52 245.4h6.6M625.84 113.1h6.6M625.84 237.8h6.6M627.17 106.3h6.6M627.17 236.6h6.6M628.49 103.8h6.6M628.49 234.3h6.6M629.81 108.5h6.6M629.81 246.3h6.6M631.13 110.8h6.6M631.13 252.4h6.6M632.46 120.8h6.6M632.46 253.8h6.6M633.78 121.3h6.6M633.78 260.7h6.6M635.10 125.6h6.6M635.10 264.6h6.6M636.42 129.7h6.6M636.42 258.9h6.6M637.75 140.9h6.6M637.75 262.4h6.6M639.07 143.4h6.6M639.07 261.4h6.6M640.39 151.9h6.6M640.39 267.7h6.6M641.71 161.5h6.6M641.71 265.8h6.6M643.04 165.7h6.6M643.04 271.2h6.6M644.36 158.3h6.6M644.36 277.8h6.6M645.68 159.1h6.6M645.68 278.8h6.6M647.01 158.1h6.6M647.01 279.5h6.6M648.33 161.9h6.6M648.33 270.9h6.6M649.65 160.3h6.6M649.65 277.9h6.6M650.97 162.4h6.6M650.97 271.7h6.6M652.30 168.7h6.6M652.30 280.5h6.6M653.62 174.4h6.6M653.62 285.6h6.6M654.94 177.5h6.6M654.94 294.9h6.6M656.26 177.9h6.6M656.26 299.8h6.6M657.59 189.5h6.6M657.59 306.5h6.6M658.91 183.8h6.6M658.91 299.7h6.6M660.23 183.8h6.6M660.23 296.8h6.6M661.55 191.9h6.6M661.55 297.0h6.6M662.88 186.0h6.6M662.88 294.0h6.6M664.20 187.3h6.6M664.20 294.6h6.6" fill="none" stroke="#ecb9ba" stroke-width="0.8"/>
<path d="M72.96 245.5V281.9M74.28 244.8V281.9M75.61 242.7V281.2M76.93 245.0V280.2M78.25 239.9V280.4M79.57 238.0V279.6M80.90 238.7V282.2M82.22 240.9V282.9M83.54 238.8V284.4M84.86 238.1V284.6M86.19 240.0V282.3M87.51 239.2V278.7M88.83 235.6V279.4M90.15 234.3V278.6M91.48 235.3V281.8M92.80 230.5V281.9M94.12 233.9V280.0M95.45 234.4V278.0M96.77 237.8V274.9M98.09 238.2V278.5M99.41 238.7V278.2M100.74 238.1V279.1M102.06 237.5V273.9M103.38 236.9V280.1M104.70 236.4V277.9M106.03 235.4V277.5M107.35 239.4V273.1M108.67 238.9V275.3M109.99 236.1V276.9M111.32 235.9V278.2M112.64 234.2V276.4M113.96 239.6V277.1M115.29 237.9V274.0M116.61 237.9V276.4M117.93 234.8V277.6M119.25 235.6V276.4M120.58 237.3V274.8M121.90 236.5V274.3M123.22 233.0V273.8M124.54 232.8V279.2M125.87 232.8V277.8M127.19 233.3V274.1M128.51 237.3V274.2M129.83 236.0V279.6M131.16 237.1V282.5M132.48 239.9V285.7M133.80 238.3V286.1M135.13 244.5V289.2M136.45 246.2V288.2M137.77 246.6V294.2M139.09 248.6V292.0M140.42 251.6V298.1M141.74 254.6V295.4M143.06 257.4V301.0M144.38 259.6V304.0M145.71 264.1V303.7M147.03 265.7V305.4M148.35 267.2V307.8M149.67 269.5V306.5M151.00 269.2V314.7M152.32 275.4V315.3M153.64 275.4V317.1M154.97 277.5V317.4M156.29 278.9V313.6M157.61 283.0V317.0M158.93 279.7V316.5M160.26 280.5V316.2M161.58 280.8V317.2M162.90 284.5V319.2M164.22 283.2V315.8M165.55 282.7V318.0M166.87 288.7V319.1M168.19 288.0V321.4M169.51 292.2V323.6M170.84 292.1V323.7M172.16 295.2V325.9M173.48 293.4V325.8M174.81 291.9V325.6M176.13 293.2V327.1M177.45 294.6V325.4M178.77 290.8V325.5M180.10 293.9V328.0M181.42 294.1V325.8M182.74 295.2V328.7M184.06 292.8V322.7M185.39 292.0V325.1M186.71 292.0V320.0M188.03 287.6V322.5M189.35 285.2V320.4M190.68 288.3V319.2M192.00 289.8V319.7M193.32 290.7V318.6M194.65 287.9V317.2M195.97 288.3V315.0M197.29 288.4V315.6M198.61 283.3V318.0M199.94 282.8V317.9M201.26 282.6V320.6M202.58 285.5V318.6M203.90 282.5V316.1M205.23 280.1V316.6M206.55 278.1V313.1M207.87 279.2V315.3M209.19 283.0V312.2M210.52 284.9V314.4M211.84 278.3V311.8M213.16 275.2V312.1M214.49 271.4V313.0M215.81 270.3V307.8M217.13 265.4V307.0M218.45 263.1V307.2M219.78 262.7V308.1M221.10 255.8V303.0M222.42 253.7V302.5M223.74 252.3V299.4M225.07 249.2V298.2M226.39 251.5V296.7M227.71 246.6V293.0M229.03 246.9V289.7M230.36 244.2V287.0M231.68 243.6V286.8M233.00 245.0V284.2M234.33 243.8V282.8M235.65 241.2V280.4M236.97 241.7V281.7M238.29 239.7V277.8M239.62 239.3V277.4M240.94 237.9V275.1M242.26 237.3V277.3M243.58 237.5V283.8M244.91 240.6V280.1M246.23 243.7V281.9M247.55 242.4V279.1M248.87 241.1V280.7M250.20 241.2V282.0M251.52 243.1V280.3M252.84 243.5V284.6M254.17 245.3V283.1M255.49 245.5V284.7M256.81 244.7V284.3M258.13 246.6V285.4M259.46 243.0V284.4M260.78 242.8V284.6M262.10 245.5V284.1M263.42 244.8V284.6M264.75 245.7V283.3M266.07 247.0V285.5M267.39 245.0V283.3M268.71 247.1V285.7M270.04 243.7V291.0M271.36 252.3V289.0M272.68 254.0V289.6M274.01 258.6V291.2M275.33 261.8V296.1M276.65 265.0V299.0M277.97 263.0V300.6M279.30 268.0V304.5M280.62 270.9V311.5M281.94 276.8V305.8M283.26 275.1V307.1M284.59 277.1V307.4M285.91 280.2V311.1M287.23 277.9V311.9M288.55 280.7V312.4M289.88 279.7V312.3M291.20 281.2V314.5M292.52 278.1V313.6M293.85 280.1V313.6M295.17 277.4V315.8M296.49 276.7V316.3M297.81 276.3V315.9M299.14 273.3V318.1M300.46 276.5V317.5M301.78 275.9V317.9M303.10 279.7V319.0M304.43 280.7V320.7M305.75 280.9V317.0M307.07 277.4V318.2M308.39 279.3V317.3M309.72 279.8V318.3M311.04 279.9V319.8M312.36 279.4V318.1M313.69 282.0V318.0M315.01 284.9V320.0M316.33 285.6V319.4M317.65 284.2V321.1M318.98 282.0V320.4M320.30 284.2V316.1M321.62 282.3V318.8M322.94 281.2V319.7M324.27 282.0V319.3M325.59 280.9V315.2M326.91 278.5V316.6M328.23 276.6V314.2M329.56 275.4V316.5M330.88 277.2V311.9M332.20 276.9V311.7M333.53 278.9V309.2M334.85 272.7V313.7M336.17 272.3V312.6M337.49 273.3V312.1M338.82 274.7V315.7M340.14 273.5V310.6M341.46 275.8V311.8M342.78 275.7V315.4M344.11 274.4V310.7M345.43 273.6V311.0M346.75 275.0V305.9M348.07 273.2V307.8M349.40 275.4V307.0M350.72 274.8V303.1M352.04 274.2V301.4M353.37 267.2V300.3M354.69 259.4V300.7M356.01 252.6V292.4M357.33 247.6V294.3M358.66 245.0V289.2M359.98 246.0V289.3M361.30 241.6V283.7M362.62 244.4V281.3M363.95 239.7V278.9M365.27 239.3V276.5M366.59 238.4V276.4M367.91 236.1V275.7M369.24 235.3V271.1M370.56 238.0V271.4M371.88 235.3V273.0M373.21 234.2V271.1M374.53 237.3V272.5M375.85 235.4V273.6M377.17 237.5V270.3M378.50 238.8V270.3M379.82 240.5V277.9M381.14 242.9V281.1M382.46 243.2V280.6M383.79 237.1V279.4M385.11 238.9V281.6M386.43 239.2V281.3M387.75 243.7V279.6M389.08 247.1V280.7M390.40 247.2V281.4M391.72 245.1V282.9M393.05 245.7V284.0M394.37 248.6V279.3M395.69 247.1V276.9M397.01 246.3V277.0M398.34 244.9V285.2M399.66 248.3V283.7M400.98 245.7V284.3M402.30 250.8V287.0M403.63 252.0V292.1M404.95 254.6V291.4M406.27 258.7V294.8M407.59 262.8V297.5M408.92 262.1V301.8M410.24 269.1V304.3M411.56 268.6V306.4M412.89 272.0V305.4M414.21 274.4V307.7M415.53 280.2V308.4M416.85 279.5V312.4M418.18 284.0V311.4M419.50 284.6V316.0M420.82 283.9V314.6M422.14 283.0V318.5M423.47 281.1V319.5M424.79 286.4V320.3M426.11 284.2V319.7M427.43 292.0V319.8M428.76 291.7V321.7M430.08 295.3V325.5M431.40 295.9V327.2M432.73 293.8V328.6M434.05 293.3V324.6M435.37 293.8V328.5M436.69 294.8V328.8M438.02 294.2V329.1M439.34 295.9V330.5M440.66 294.2V332.1M441.98 291.9V331.1M443.31 291.3V330.5M444.63 295.1V332.7M445.95 295.8V335.5M447.27 294.0V332.3M448.60 294.7V333.9M449.92 296.7V334.4M451.24 296.9V334.2M452.57 296.6V334.5M453.89 295.7V332.3M455.21 293.5V334.9M456.53 291.6V332.5M457.86 291.4V334.1M459.18 292.7V332.3M460.50 292.1V333.3M461.82 291.6V331.6M463.15 297.4V330.6M464.47 291.6V333.1M465.79 294.1V331.7M467.11 293.9V333.8M468.44 297.0V330.6M469.76 295.6V328.2M471.08 297.6V327.4M472.41 296.6V327.3M473.73 295.8V329.0M475.05 297.4V331.0M476.37 295.0V332.3M477.70 295.4V332.3M479.02 295.2V331.4M480.34 292.4V333.1M481.66 291.5V330.7M482.99 286.0V326.1M484.31 287.1V326.1M485.63 279.9V310.7M486.95 273.5V308.8M488.28 267.9V302.6M489.60 261.6V303.8M490.92 259.3V299.5M492.25 252.7V296.2M493.57 245.8V291.4M494.89 244.2V290.0M496.21 239.9V287.5M497.54 239.9V290.5M498.86 237.2V291.1M500.18 237.8V295.6M501.50 241.5V294.6M502.83 248.5V292.5M504.15 248.0V295.5M505.47 249.3V298.1M506.79 252.1V297.8M508.12 252.7V295.1M509.44 256.5V298.7M510.76 256.8V294.9M512.09 257.7V299.5M513.41 256.4V296.8M514.73 254.7V296.3M516.05 256.3V296.0M517.38 258.9V296.9M518.70 259.8V297.2M520.02 259.2V299.1M521.34 261.1V301.2M522.67 263.4V300.5M523.99 264.5V303.8M525.31 269.9V307.6M526.63 266.7V305.3M527.96 268.1V305.4M529.28 264.8V305.5M530.60 269.7V311.3M531.93 274.2V309.8M533.25 270.8V316.5M534.57 275.9V318.2M535.89 281.4V321.1M537.22 283.6V322.2M538.54 287.5V325.7M539.86 289.6V325.5M541.18 293.0V328.5M542.51 294.4V329.6M543.83 293.8V332.0M545.15 295.4V334.8M546.47 298.7V338.4M547.80 303.9V337.6M549.12 303.0V341.7M550.44 304.2V341.9M551.77 308.7V343.9M553.09 308.1V345.9M554.41 309.2V344.7M555.73 307.6V348.0M557.06 308.5V342.2M558.38 305.1V344.2M559.70 307.0V341.9M561.02 307.0V343.5M562.35 308.0V345.2M563.67 305.0V344.1M564.99 307.1V347.2M566.31 306.1V347.5M567.64 309.9V352.4M568.96 311.1V350.0M570.28 317.0V351.2M571.61 315.9V351.4M572.93 321.6V351.7M574.25 319.9V350.1M575.57 322.3V354.8M576.90 325.8V357.6M578.22 323.8V356.8M579.54 326.9V356.7M580.86 328.5V355.7M582.19 328.1V357.4M583.51 325.8V353.6M584.83 323.8V352.7M586.15 325.8V351.5M587.48 323.4V351.7M588.80 322.9V352.0M590.12 317.1V350.8M591.45 314.9V348.2M592.77 313.5V349.9M594.09 314.9V347.4M595.41 315.5V347.2M596.74 317.3V345.2M598.06 316.1V346.5M599.38 314.7V346.6M600.70 315.1V347.8M602.03 316.8V345.3M603.35 313.7V340.8M604.67 311.5V344.3M605.99 311.7V345.7M607.32 312.5V345.4M608.64 310.9V343.0M609.96 310.2V340.9M611.29 307.5V338.3M612.61 304.5V338.0M613.93 302.8V338.8M615.25 302.3V335.9M616.58 301.6V336.7M617.90 299.6V337.3M619.22 294.7V336.4M620.54 292.1V333.3M621.87 286.6V333.2M623.19 287.1V332.5M624.51 284.9V331.2M625.83 285.9V329.7M627.16 286.7V324.0M628.48 287.4V321.4M629.80 285.4V322.2M631.13 284.4V316.5M632.45 281.3V316.2M633.77 279.9V317.1M635.09 284.5V317.3M636.42 284.7V317.5M637.74 286.3V315.5M639.06 285.1V317.9M640.38 286.1V318.1M641.71 281.9V318.2M643.03 282.3V320.6M644.35 287.7V315.6M645.67 282.3V314.5M647.00 285.7V317.6M648.32 283.3V320.6M649.64 288.9V322.5M650.97 285.0V321.9M652.29 286.0V322.7M653.61 286.8V324.7M654.93 289.8V328.1M656.26 290.3V330.9M657.58 290.1V331.2M658.90 293.6V324.5M660.22 292.4V330.0M661.55 294.2V331.9M662.87 293.4V332.4M664.19 295.2V333.1M665.51 299.3V336.1M666.84 301.1V336.6M668.16 302.6V336.1" fill="none" stroke="#ebfacb" stroke-width="1.12"/>
<path d="M69.66 245.5h6.6M69.66 281.9h6.6M70.98 244.8h6.6M70.98 281.9h6.6M72.31 242.7h6.6M72.31 281.2h6.6M73.63 245.0h6.6M73.63 280.2h6.6M74.95 239.9h6.6M74.95 280.4h6.6M76.27 238.0h6.6M76.27 279.6h6.6M77.60 238.7h6.6M77.60 282.2h6.6M78.92 240.9h6.6M78.92 282.9h6.6M80.24 238.8h6.6M80.24 284.4h6.6M81.56 238.1h6.6M81.56 284.6h6.6M82.89 240.0h6.6M82.89 282.3h6.6M84.21 239.2h6.6M84.21 278.7h6.6M85.53 235.6h6.6M85.53 279.4h6.6M86.85 234.3h6.6M86.85 278.6h6.6M88.18 235.3h6.6M88.18 281.8h6.6M89.50 230.5h6.6M89.50 281.9h6.6M90.82 233.9h6.6M90.82 280.0h6.6M92.15 234.4h6.6M92.15 278.0h6.6M93.47 237.8h6.6M93.47 274.9h6.6M94.79 238.2h6.6M94.79 278.5h6.6M96.11 238.7h6.6M96.11 278.2h6.6M97.44 238.1h6.6M97.44 279.1h6.6M98.76 237.5h6.6M98.76 273.9h6.6M100.08 236.9h6.6M100.08 280.1h6.6M101.40 236.4h6.6M101.40 277.9h6.6M102.73 235.4h6.6M102.73 277.5h6.6M104.05 239.4h6.6M104.05 273.1h6.6M105.37 238.9h6.6M105.37 275.3h6.6M106.69 236.1h6.6M106.69 276.9h6.6M108.02 235.9h6.6M108.02 278.2h6.6M109.34 234.2h6.6M109.34 276.4h6.6M110.66 239.6h6.6M110.66 277.1h6.6M111.99 237.9h6.6M111.99 274.0h6.6M113.31 237.9h6.6M113.31 276.4h6.6M114.63 234.8h6.6M114.63 277.6h6.6M115.95 235.6h6.6M115.95 276.4h6.6M117.28 237.3h6.6M117.28 274.8h6.6M118.60 236.5h6.6M118.60 274.3h6.6M119.92 233.0h6.6M119.92 273.8h6.6M121.24 232.8h6.6M121.24 279.2h6.6M122.57 232.8h6.6M122.57 277.8h6.6M123.89 233.3h6.6M123.89 274.1h6.6M125.21 237.3h6.6M125.21 274.2h6.6M126.53 236.0h6.6M126.53 279.6h6.6M127.86 237.1h6.6M127.86 282.5h6.6M129.18 239.9h6.6M129.18 285.7h6.6M130.50 238.3h6.6M130.50 286.1h6.6M131.83 244.5h6.6M131.83 289.2h6.6M133.15 246.2h6.6M133.15 288.2h6.6M134.47 246.6h6.6M134.47 294.2h6.6M135.79 248.6h6.6M135.79 292.0h6.6M137.12 251.6h6.6M137.12 298.1h6.6M138.44 254.6h6.6M138.44 295.4h6.6M139.76 257.4h6.6M139.76 301.0h6.6M141.08 259.6h6.6M141.08 304.0h6.6M142.41 264.1h6.6M142.41 303.7h6.6M143.73 265.7h6.6M143.73 305.4h6.6M145.05 267.2h6.6M145.05 307.8h6.6M146.37 269.5h6.6M146.37 306.5h6.6M147.70 269.2h6.6M147.70 314.7h6.6M149.02 275.4h6.6M149.02 315.3h6.6M150.34 275.4h6.6M150.34 317.1h6.6M151.67 277.5h6.6M151.67 317.4h6.6M152.99 278.9h6.6M152.99 313.6h6.6M154.31 283.0h6.6M154.31 317.0h6.6M155.63 279.7h6.6M155.63 316.5h6.6M156.96 280.5h6.6M156.96 316.2h6.6M158.28 280.8h6.6M158.28 317.2h6.6M159.60 284.5h6.6M159.60 319.2h6.6M160.92 283.2h6.6M160.92 315.8h6.6M162.25 282.7h6.6M162.25 318.0h6.6M163.57 288.7h6.6M163.57 319.1h6.6M164.89 288.0h6.6M164.89 321.4h6.6M166.21 292.2h6.6M166.21 323.6h6.6M167.54 292.1h6.6M167.54 323.7h6.6M168.86 295.2h6.6M168.86 325.9h6.6M170.18 293.4h6.6M170.18 325.8h6.6M171.51 291.9h6.6M171.51 325.6h6.6M172.83 293.2h6.6M172.83 327.1h6.6M174.15 294.6h6.6M174.15 325.4h6.6M175.47 290.8h6.6M175.47 325.5h6.6M176.80 293.9h6.6M176.80 328.0h6.6M178.12 294.1h6.6M178.12 325.8h6.6M179.44 295.2h6.6M179.44 328.7h6.6M180.76 292.8h6.6M180.76 322.7h6.6M182.09 292.0h6.6M182.09 325.1h6.6M183.41 292.0h6.6M183.41 320.0h6.6M184.73 287.6h6.6M184.73 322.5h6.6M186.05 285.2h6.6M186.05 320.4h6.6M187.38 288.3h6.6M187.38 319.2h6.6M188.70 289.8h6.6M188.70 319.7h6.6M190.02 290.7h6.6M190.02 318.6h6.6M191.35 287.9h6.6M191.35 317.2h6.6M192.67 288.3h6.6M192.67 315.0h6.6M193.99 288.4h6.6M193.99 315.6h6.6M195.31 283.3h6.6M195.31 318.0h6.6M196.64 282.8h6.6M196.64 317.9h6.6M197.96 282.6h6.6M197.96 320.6h6.6M199.28 285.5h6.6M199.28 318.6h6.6M200.60 282.5h6.6M200.60 316.1h6.6M201.93 280.1h6.6M201.93 316.6h6.6M203.25 278.1h6.6M203.25 313.1h6.6M204.57 279.2h6.6M204.57 315.3h6.6M205.89 283.0h6.6M205.89 312.2h6.6M207.22 284.9h6.6M207.22 314.4h6.6M208.54 278.3h6.6M208.54 311.8h6.6M209.86 275.2h6.6M209.86 312.1h6.6M211.19 271.4h6.6M211.19 313.0h6.6M212.51 270.3h6.6M212.51 307.8h6.6M213.83 265.4h6.6M213.83 307.0h6.6M215.15 263.1h6.6M215.15 307.2h6.6M216.48 262.7h6.6M216.48 308.1h6.6M217.80 255.8h6.6M217.80 303.0h6.6M219.12 253.7h6.6M219.12 302.5h6.6M220.44 252.3h6.6M220.44 299.4h6.6M221.77 249.2h6.6M221.77 298.2h6.6M223.09 251.5h6.6M223.09 296.7h6.6M224.41 246.6h6.6M224.41 293.0h6.6M225.73 246.9h6.6M225.73 289.7h6.6M227.06 244.2h6.6M227.06 287.0h6.6M228.38 243.6h6.6M228.38 286.8h6.6M229.70 245.0h6.6M229.70 284.2h6.6M231.03 243.8h6.6M231.03 282.8h6.6M232.35 241.2h6.6M232.35 280.4h6.6M233.67 241.7h6.6M233.67 281.7h6.6M234.99 239.7h6.6M234.99 277.8h6.6M236.32 239.3h6.6M236.32 277.4h6.6M237.64 237.9h6.6M237.64 275.1h6.6M238.96 237.3h6.6M238.96 277.3h6.6M240.28 237.5h6.6M240.28 283.8h6.6M241.61 240.6h6.6M241.61 280.1h6.6M242.93 243.7h6.6M242.93 281.9h6.6M244.25 242.4h6.6M244.25 279.1h6.6M245.57 241.1h6.6M245.57 280.7h6.6M246.90 241.2h6.6M246.90 282.0h6.6M248.22 243.1h6.6M248.22 280.3h6.6M249.54 243.5h6.6M249.54 284.6h6.6M250.87 245.3h6.6M250.87 283.1h6.6M252.19 245.5h6.6M252.19 284.7h6.6M253.51 244.7h6.6M253.51 284.3h6.6M254.83 246.6h6.6M254.83 285.4h6.6M256.16 243.0h6.6M256.16 284.4h6.6M257.48 242.8h6.6M257.48 284.6h6.6M258.80 245.5h6.6M258.80 284.1h6.6M260.12 244.8h6.6M260.12 284.6h6.6M261.45 245.7h6.6M261.45 283.3h6.6M262.77 247.0h6.6M262.77 285.5h6.6M264.09 245.0h6.6M264.09 283.3h6.6M265.41 247.1h6.6M265.41 285.7h6.6M266.74 243.7h6.6M266.74 291.0h6.6M268.06 252.3h6.6M268.06 289.0h6.6M269.38 254.0h6.6M269.38 289.6h6.6M270.71 258.6h6.6M270.71 291.2h6.6M272.03 261.8h6.6M272.03 296.1h6.6M273.35 265.0h6.6M273.35 299.0h6.6M274.67 263.0h6.6M274.67 300.6h6.6M276.00 268.0h6.6M276.00 304.5h6.6M277.32 270.9h6.6M277.32 311.5h6.6M278.64 276.8h6.6M278.64 305.8h6.6M279.96 275.1h6.6M279.96 307.1h6.6M281.29 277.1h6.6M281.29 307.4h6.6M282.61 280.2h6.6M282.61 311.1h6.6M283.93 277.9h6.6M283.93 311.9h6.6M285.25 280.7h6.6M285.25 312.4h6.6M286.58 279.7h6.6M286.58 312.3h6.6M287.90 281.2h6.6M287.90 314.5h6.6M289.22 278.1h6.6M289.22 313.6h6.6M290.55 280.1h6.6M290.55 313.6h6.6M291.87 277.4h6.6M291.87 315.8h6.6M293.19 276.7h6.6M293.19 316.3h6.6M294.51 276.3h6.6M294.51 315.9h6.6M295.84 273.3h6.6M295.84 318.1h6.6M297.16 276.5h6.6M297.16 317.5h6.6M298.48 275.9h6.6M298.48 317.9h6.6M299.80 279.7h6.6M299.80 319.0h6.6M301.13 280.7h6.6M301.13 320.7h6.6M302.45 280.9h6.6M302.45 317.0h6.6M303.77 277.4h6.6M303.77 318.2h6.6M305.09 279.3h6.6M305.09 317.3h6.6M306.42 279.8h6.6M306.42 318.3h6.6M307.74 279.9h6.6M307.74 319.8h6.6M309.06 279.4h6.6M309.06 318.1h6.6M310.39 282.0h6.6M310.39 318.0h6.6M311.71 284.9h6.6M311.71 320.0h6.6M313.03 285.6h6.6M313.03 319.4h6.6M314.35 284.2h6.6M314.35 321.1h6.6M315.68 282.0h6.6M315.68 320.4h6.6M317.00 284.2h6.6M317.00 316.1h6.6M318.32 282.3h6.6M318.32 318.8h6.6M319.64 281.2h6.6M319.64 319.7h6.6M320.97 282.0h6.6M320.97 319.3h6.6M322.29 280.9h6.6M322.29 315.2h6.6M323.61 278.5h6.6M323.61 316.6h6.6M324.93 276.6h6.6M324.93 314.2h6.6M326.26 275.4h6.6M326.26 316.5h6.6M327.58 277.2h6.6M327.58 311.9h6.6M328.90 276.9h6.6M328.90 311.7h6.6M330.23 278.9h6.6M330.23 309.2h6.6M331.55 272.7h6.6M331.55 313.7h6.6M332.87 272.3h6.6M332.87 312.6h6.6M334.19 273.3h6.6M334.19 312.1h6.6M335.52 274.7h6.6M335.52 315.7h6.6M336.84 273.5h6.6M336.84 310.6h6.6M338.16 275.8h6.6M338.16 311.8h6.6M339.48 275.7h6.6M339.48 315.4h6.6M340.81 274.4h6.6M340.81 310.7h6.6M342.13 273.6h6.6M342.13 311.0h6.6M343.45 275.0h6.6M343.45 305.9h6.6M344.77 273.2h6.6M344.77 307.8h6.6M346.10 275.4h6.6M346.10 307.0h6.6M347.42 274.8h6.6M347.42 303.1h6.6M348.74 274.2h6.6M348.74 301.4h6.6M350.07 267.2h6.6M350.07 300.3h6.6M351.39 259.4h6.6M351.39 300.7h6.6M352.71 252.6h6.6M352.71 292.4h6.6M354.03 247.6h6.6M354.03 294.3h6.6M355.36 245.0h6.6M355.36 289.2h6.6M356.68 246.0h6.6M356.68 289.3h6.6M358.00 241.6h6.6M358.00 283.7h6.6M359.32 244.4h6.6M359.32 281.3h6.6M360.65 239.7h6.6M360.65 278.9h6.6M361.97 239.3h6.6M361.97 276.5h6.6M363.29 238.4h6.6M363.29 276.4h6.6M364.61 236.1h6.6M364.61 275.7h6.6M365.94 235.3h6.6M365.94 271.1h6.6M367.26 238.0h6.6M367.26 271.4h6.6M368.58 235.3h6.6M368.58 273.0h6.6M369.91 234.2h6.6M369.91 271.1h6.6M371.23 237.3h6.6M371.23 272.5h6.6M372.55 235.4h6.6M372.55 273.6h6.6M373.87 237.5h6.6M373.87 270.3h6.6M375.20 238.8h6.6M375.20 270.3h6.6M376.52 240.5h6.6M376.52 277.9h6.6M377.84 242.9h6.6M377.84 281.1h6.6M379.16 243.2h6.6M379.16 280.6h6.6M380.49 237.1h6.6M380.49 279.4h6.6M381.81 238.9h6.6M381.81 281.6h6.6M383.13 239.2h6.6M383.13 281.3h6.6M384.45 243.7h6.6M384.45 279.6h6.6M385.78 247.1h6.6M385.78 280.7h6.6M387.10 247.2h6.6M387.10 281.4h6.6M388.42 245.1h6.6M388.42 282.9h6.6M389.75 245.7h6.6M389.75 284.0h6.6M391.07 248.6h6.6M391.07 279.3h6.6M392.39 247.1h6.6M392.39 276.9h6.6M393.71 246.3h6.6M393.71 277.0h6.6M395.04 244.9h6.6M395.04 285.2h6.6M396.36 248.3h6.6M396.36 283.7h6.6M397.68 245.7h6.6M397.68 284.3h6.6M399.00 250.8h6.6M399.00 287.0h6.6M400.33 252.0h6.6M400.33 292.1h6.6M401.65 254.6h6.6M401.65 291.4h6.6M402.97 258.7h6.6M402.97 294.8h6.6M404.29 262.8h6.6M404.29 297.5h6.6M405.62 262.1h6.6M405.62 301.8h6.6M406.94 269.1h6.6M406.94 304.3h6.6M408.26 268.6h6.6M408.26 306.4h6.6M409.59 272.0h6.6M409.59 305.4h6.6M410.91 274.4h6.6M410.91 307.7h6.6M412.23 280.2h6.6M412.23 308.4h6.6M413.55 279.5h6.6M413.55 312.4h6.6M414.88 284.0h6.6M414.88 311.4h6.6M416.20 284.6h6.6M416.20 316.0h6.6M417.52 283.9h6.6M417.52 314.6h6.6M418.84 283.0h6.6M418.84 318.5h6.6M420.17 281.1h6.6M420.17 319.5h6.6M421.49 286.4h6.6M421.49 320.3h6.6M422.81 284.2h6.6M422.81 319.7h6.6M424.13 292.0h6.6M424.13 319.8h6.6M425.46 291.7h6.6M425.46 321.7h6.6M426.78 295.3h6.6M426.78 325.5h6.6M428.10 295.9h6.6M428.10 327.2h6.6M429.43 293.8h6.6M429.43 328.6h6.6M430.75 293.3h6.6M430.75 324.6h6.6M432.07 293.8h6.6M432.07 328.5h6.6M433.39 294.8h6.6M433.39 328.8h6.6M434.72 294.2h6.6M434.72 329.1h6.6M436.04 295.9h6.6M436.04 330.5h6.6M437.36 294.2h6.6M437.36 332.1h6.6M438.68 291.9h6.6M438.68 331.1h6.6M440.01 291.3h6.6M440.01 330.5h6.6M441.33 295.1h6.6M441.33 332.7h6.6M442.65 295.8h6.6M442.65 335.5h6.6M443.97 294.0h6.6M443.97 332.3h6.6M445.30 294.7h6.6M445.30 333.9h6.6M446.62 296.7h6.6M446.62 334.4h6.6M447.94 296.9h6.6M447.94 334.2h6.6M449.27 296.6h6.6M449.27 334.5h6.6M450.59 295.7h6.6M450.59 332.3h6.6M451.91 293.5h6.6M451.91 334.9h6.6M453.23 291.6h6.6M453.23 332.5h6.6M454.56 291.4h6.6M454.56 334.1h6.6M455.88 292.7h6.6M455.88 332.3h6.6M457.20 292.1h6.6M457.20 333.3h6.6M458.52 291.6h6.6M458.52 331.6h6.6M459.85 297.4h6.6M459.85 330.6h6.6M461.17 291.6h6.6M461.17 333.1h6.6M462.49 294.1h6.6M462.49 331.7h6.6M463.81 293.9h6.6M463.81 333.8h6.6M465.14 297.0h6.6M465.14 330.6h6.6M466.46 295.6h6.6M466.46 328.2h6.6M467.78 297.6h6.6M467.78 327.4h6.6M469.11 296.6h6.6M469.11 327.3h6.6M470.43 295.8h6.6M470.43 329.0h6.6M471.75 297.4h6.6M471.75 331.0h6.6M473.07 295.0h6.6M473.07 332.3h6.6M474.40 295.4h6.6M474.40 332.3h6.6M475.72 295.2h6.6M475.72 331.4h6.6M477.04 292.4h6.6M477.04 333.1h6.6M478.36 291.5h6.6M478.36 330.7h6.6M479.69 286.0h6.6M479.69 326.1h6.6M481.01 287.1h6.6M481.01 326.1h6.6M482.33 279.9h6.6M482.33 310.7h6.6M483.65 273.5h6.6M483.65 308.8h6.6M484.98 267.9h6.6M484.98 302.6h6.6M486.30 261.6h6.6M486.30 303.8h6.6M487.62 259.3h6.6M487.62 299.5h6.6M488.95 252.7h6.6M488.95 296.2h6.6M490.27 245.8h6.6M490.27 291.4h6.6M491.59 244.2h6.6M491.59 290.0h6.6M492.91 239.9h6.6M492.91 287.5h6.6M494.24 239.9h6.6M494.24 290.5h6.6M495.56 237.2h6.6M495.56 291.1h6.6M496.88 237.8h6.6M496.88 295.6h6.6M498.20 241.5h6.6M498.20 294.6h6.6M499.53 248.5h6.6M499.53 292.5h6.6M500.85 248.0h6.6M500.85 295.5h6.6M502.17 249.3h6.6M502.17 298.1h6.6M503.49 252.1h6.6M503.49 297.8h6.6M504.82 252.7h6.6M504.82 295.1h6.6M506.14 256.5h6.6M506.14 298.7h6.6M507.46 256.8h6.6M507.46 294.9h6.6M508.79 257.7h6.6M508.79 299.5h6.6M510.11 256.4h6.6M510.11 296.8h6.6M511.43 254.7h6.6M511.43 296.3h6.6M512.75 256.3h6.6M512.75 296.0h6.6M514.08 258.9h6.6M514.08 296.9h6.6M515.40 259.8h6.6M515.40 297.2h6.6M516.72 259.2h6.6M516.72 299.1h6.6M518.04 261.1h6.6M518.04 301.2h6.6M519.37 263.4h6.6M519.37 300.5h6.6M520.69 264.5h6.6M520.69 303.8h6.6M522.01 269.9h6.6M522.01 307.6h6.6M523.33 266.7h6.6M523.33 305.3h6.6M524.66 268.1h6.6M524.66 305.4h6.6M525.98 264.8h6.6M525.98 305.5h6.6M527.30 269.7h6.6M527.30 311.3h6.6M528.63 274.2h6.6M528.63 309.8h6.6M529.95 270.8h6.6M529.95 316.5h6.6M531.27 275.9h6.6M531.27 318.2h6.6M532.59 281.4h6.6M532.59 321.1h6.6M533.92 283.6h6.6M533.92 322.2h6.6M535.24 287.5h6.6M535.24 325.7h6.6M536.56 289.6h6.6M536.56 325.5h6.6M537.88 293.0h6.6M537.88 328.5h6.6M539.21 294.4h6.6M539.21 329.6h6.6M540.53 293.8h6.6M540.53 332.0h6.6M541.85 295.4h6.6M541.85 334.8h6.6M543.17 298.7h6.6M543.17 338.4h6.6M544.50 303.9h6.6M544.50 337.6h6.6M545.82 303.0h6.6M545.82 341.7h6.6M547.14 304.2h6.6M547.14 341.9h6.6M548.47 308.7h6.6M548.47 343.9h6.6M549.79 308.1h6.6M549.79 345.9h6.6M551.11 309.2h6.6M551.11 344.7h6.6M552.43 307.6h6.6M552.43 348.0h6.6M553.76 308.5h6.6M553.76 342.2h6.6M555.08 305.1h6.6M555.08 344.2h6.6M556.40 307.0h6.6M556.40 341.9h6.6M557.72 307.0h6.6M557.72 343.5h6.6M559.05 308.0h6.6M559.05 345.2h6.6M560.37 305.0h6.6M560.37 344.1h6.6M561.69 307.1h6.6M561.69 347.2h6.6M563.01 306.1h6.6M563.01 347.5h6.6M564.34 309.9h6.6M564.34 352.4h6.6M565.66 311.1h6.6M565.66 350.0h6.6M566.98 317.0h6.6M566.98 351.2h6.6M568.31 315.9h6.6M568.31 351.4h6.6M569.63 321.6h6.6M569.63 351.7h6.6M570.95 319.9h6.6M570.95 350.1h6.6M572.27 322.3h6.6M572.27 354.8h6.6M573.60 325.8h6.6M573.60 357.6h6.6M574.92 323.8h6.6M574.92 356.8h6.6M576.24 326.9h6.6M576.24 356.7h6.6M577.56 328.5h6.6M577.56 355.7h6.6M578.89 328.1h6.6M578.89 357.4h6.6M580.21 325.8h6.6M580.21 353.6h6.6M581.53 323.8h6.6M581.53 352.7h6.6M582.85 325.8h6.6M582.85 351.5h6.6M584.18 323.4h6.6M584.18 351.7h6.6M585.50 322.9h6.6M585.50 352.0h6.6M586.82 317.1h6.6M586.82 350.8h6.6M588.15 314.9h6.6M588.15 348.2h6.6M589.47 313.5h6.6M589.47 349.9h6.6M590.79 314.9h6.6M590.79 347.4h6.6M592.11 315.5h6.6M592.11 347.2h6.6M593.44 317.3h6.6M593.44 345.2h6.6M594.76 316.1h6.6M594.76 346.5h6.6M596.08 314.7h6.6M596.08 346.6h6.6M597.40 315.1h6.6M597.40 347.8h6.6M598.73 316.8h6.6M598.73 345.3h6.6M600.05 313.7h6.6M600.05 340.8h6.6M601.37 311.5h6.6M601.37 344.3h6.6M602.69 311.7h6.6M602.69 345.7h6.6M604.02 312.5h6.6M604.02 345.4h6.6M605.34 310.9h6.6M605.34 343.0h6.6M606.66 310.2h6.6M606.66 340.9h6.6M607.99 307.5h6.6M607.99 338.3h6.6M609.31 304.5h6.6M609.31 338.0h6.6M610.63 302.8h6.6M610.63 338.8h6.6M611.95 302.3h6.6M611.95 335.9h6.6M613.28 301.6h6.6M613.28 336.7h6.6M614.60 299.6h6.6M614.60 337.3h6.6M615.92 294.7h6.6M615.92 336.4h6.6M617.24 292.1h6.6M617.24 333.3h6.6M618.57 286.6h6.6M618.57 333.2h6.6M619.89 287.1h6.6M619.89 332.5h6.6M621.21 284.9h6.6M621.21 331.2h6.6M622.53 285.9h6.6M622.53 329.7h6.6M623.86 286.7h6.6M623.86 324.0h6.6M625.18 287.4h6.6M625.18 321.4h6.6M626.50 285.4h6.6M626.50 322.2h6.6M627.83 284.4h6.6M627.83 316.5h6.6M629.15 281.3h6.6M629.15 316.2h6.6M630.47 279.9h6.6M630.47 317.1h6.6M631.79 284.5h6.6M631.79 317.3h6.6M633.12 284.7h6.6M633.12 317.5h6.6M634.44 286.3h6.6M634.44 315.5h6.6M635.76 285.1h6.6M635.76 317.9h6.6M637.08 286.1h6.6M637.08 318.1h6.6M638.41 281.9h6.6M638.41 318.2h6.6M639.73 282.3h6.6M639.73 320.6h6.6M641.05 287.7h6.6M641.05 315.6h6.6M642.37 282.3h6.6M642.37 314.5h6.6M643.70 285.7h6.6M643.70 317.6h6.6M645.02 283.3h6.6M645.02 320.6h6.6M646.34 288.9h6.6M646.34 322.5h6.6M647.67 285.0h6.6M647.67 321.9h6.6M648.99 286.0h6.6M648.99 322.7h6.6M650.31 286.8h6.6M650.31 324.7h6.6M651.63 289.8h6.6M651.63 328.1h6.6M652.96 290.3h6.6M652.96 330.9h6.6M654.28 290.1h6.6M654.28 331.2h6.6M655.60 293.6h6.6M655.60 324.5h6.6M656.92 292.4h6.6M656.92 330.0h6.6M658.25 294.2h6.6M658.25 331.9h6.6M659.57 293.4h6.6M659.57 332.4h6.6M660.89 295.2h6.6M660.89 333.1h6.6M662.21 299.3h6.6M662.21 336.1h6.6M663.54 301.1h6.6M663.54 336.6h6.6M664.86 302.6h6.6M664.86 336.1h6.6" fill="none" stroke="#e0f4b6" stroke-width="0.8"/>
</g>
<polyline points="72.5,321.0 74.9,300.0 77.5,286.0 79.2,280.0 81.0,276.6 82.7,281.0 84.5,274.0 86.2,264.3 87.6,268.7 88.8,273.0 90.0,267.0 91.8,275.7 93.2,268.7 95.0,267.0 96.7,260.0 99.3,254.7 101.6,243.4 103.4,253.8 105.8,259.0 108.0,253.0 110.7,253.0 112.4,258.2 114.5,257.3 116.3,264.3 117.7,258.2 119.4,270.5 121.5,281.0 123.3,270.5 126.0,289.7 128.5,279.2 131.7,273.0 134.3,281.0 135.5,288.0 137.3,277.4 139.0,283.6 140.8,279.2 143.0,283.6 145.7,281.0 148.3,282.7 150.0,281.8 152.7,270.5 155.0,260.0 156.6,246.5 158.0,236.4 159.3,237.8 160.7,241.8 162.0,235.1 163.7,229.7 165.1,235.8 166.8,243.8 168.5,249.9 169.5,252.6 170.9,249.9 173.2,249.2 175.2,251.2 177.2,255.3 178.6,256.6 179.9,252.6 181.2,246.5 182.6,241.8 183.9,253.3 185.3,251.2 186.6,258.6 187.6,264.0 188.9,256.0 190.3,263.4 191.3,260.7 192.7,266.7 194.0,271.4 195.6,274.1 197.4,276.8 198.7,271.4 200.1,278.2 201.4,280.5 203.3,284.0 206.0,283.4 208.0,285.4 210.0,292.1 212.0,293.5 214.0,288.0 216.0,280.5 218.3,276.1 219.9,269.4 221.2,256.0 222.6,245.2 224.3,235.8 225.7,229.0 227.0,225.0 229.7,209.5 233.5,192.0 237.2,180.7 240.5,175.7 243.5,184.5 246.0,194.5 249.7,212.0 251.2,225.0 253.0,233.1 254.9,237.8 256.7,240.0 258.7,242.7 260.5,244.0 262.1,253.5 263.2,260.9 264.5,258.8 266.2,261.5 267.5,264.9 269.1,273.0 270.9,277.0 272.6,281.7 274.0,280.4 275.6,285.1 277.6,289.1 278.9,290.5 280.7,286.4 283.0,281.0 285.0,274.3 286.6,281.0 288.8,277.0 291.0,273.6 292.8,274.3 294.1,268.9 295.8,273.6 297.4,278.4 299.1,272.3 301.1,266.9 303.2,264.2 304.9,261.5 307.2,264.9 309.2,271.0 310.8,273.0 312.2,277.0 313.5,275.0 314.9,279.0 316.0,275.7 317.3,283.1 318.6,288.5 320.0,291.1 321.6,285.8 323.4,279.0 324.7,275.0 326.4,278.4 328.1,283.1 329.7,279.7 331.4,281.0 333.2,283.1 334.8,281.7 336.1,286.4 337.5,289.1 338.8,284.4 340.4,286.4 342.2,291.8 344.2,289.8 346.2,289.1 348.0,287.1 348.9,277.7 349.9,262.9 352.0,252.0 354.5,239.5 356.8,222.9 358.2,216.1 359.9,210.8 360.9,201.3 362.2,194.6 364.0,191.9 365.6,186.5 366.6,177.1 367.6,169.5 368.9,174.4 370.7,178.5 372.0,176.4 373.4,181.8 374.7,179.1 376.1,183.2 377.7,182.5 379.0,190.6 380.1,197.3 381.7,195.3 383.1,198.6 384.4,208.1 385.8,215.5 387.4,216.8 388.2,221.5 389.5,218.2 391.1,216.1 392.8,218.8 394.9,214.1 396.3,221.5 397.2,224.0 398.4,230.4 400.4,233.7 402.0,233.7 403.7,241.2 405.5,251.9 407.1,260.0 408.5,263.4 410.1,261.3 411.8,260.7 413.6,263.4 415.2,266.7 416.5,268.7 418.1,266.7 419.5,259.3 420.8,268.1 422.2,274.8 423.0,277.5 424.6,271.4 426.6,266.0 428.4,268.1 429.7,271.4 431.3,268.1 433.0,262.7 434.7,257.3 436.5,251.2 438.1,252.6 439.7,251.9 441.4,249.2 442.8,255.3 444.5,253.3 446.1,257.3 448.2,258.6 449.5,258.0 450.9,261.3 452.2,255.3 453.5,253.9 454.9,248.6 456.2,245.9 457.2,248.6 458.5,245.2 460.3,243.8 461.6,241.2 463.0,240.5 464.3,239.1 466.1,243.2 468.4,245.9 470.1,244.5 471.4,251.2 473.1,261.3 474.7,267.4 476.4,272.1 477.8,275.5 479.1,274.1 480.5,266.7 482.2,254.6 482.7,242.9 484.7,229.4 486.7,211.9 488.7,195.8 489.4,187.9 490.8,173.1 492.4,159.6 493.7,148.8 494.8,139.4 495.9,137.2 496.8,143.5 498.2,152.9 499.5,153.6 500.5,159.6 501.5,155.6 502.6,156.2 504.0,163.6 505.3,171.7 506.6,181.0 507.6,196.4 508.9,189.0 510.7,191.7 512.3,192.4 513.6,199.8 515.3,203.2 516.6,209.9 518.0,217.3 519.3,215.3 520.4,218.6 522.0,217.3 523.3,224.0 525.1,231.4 526.4,236.8 527.8,231.4 529.5,234.8 530.0,237.7 532.0,252.5 534.0,263.3 535.7,271.3 536.7,270.0 538.3,276.7 539.7,280.8 541.0,273.4 542.8,278.7 544.8,283.5 546.4,281.4 548.2,284.1 549.9,282.8 551.5,288.8 553.6,294.5 555.6,286.8 557.6,285.5 559.3,280.1 561.2,282.1 563.0,277.4 565.0,276.0 567.0,268.6 569.4,258.6 571.0,266.6 573.1,268.0 575.1,274.7 577.1,278.1 579.1,279.4 581.1,278.7 582.8,284.8 583.8,287.5 585.2,278.1 586.5,270.0 588.5,276.7 590.6,268.0 593.0,263.3 595.3,270.7 598.0,266.6 600.7,259.9 602.7,255.2 604.7,265.3 606.7,265.3 608.3,267.3 610.5,265.3 612.4,268.0 614.1,260.6 616.1,247.8 618.2,240.4 619.5,233.0 620.2,222.9 621.5,210.8 622.9,201.3 624.5,192.6 625.8,193.3 627.6,188.6 629.3,187.9 630.7,181.2 631.5,170.2 632.6,178.5 633.6,177.1 635.3,183.2 637.7,190.6 639.3,196.0 640.4,196.6 642.0,204.0 643.3,210.8 644.7,218.8 646.4,220.2 648.5,219.5 650.5,220.9 652.2,215.5 653.6,220.2 655.2,222.2 656.5,223.5 658.0,232.0 660.5,242.0 663.0,235.7 665.0,239.5 667.5,239.0" fill="none" stroke="#cb0f19" stroke-width="2.75" stroke-linejoin="round" stroke-linecap="round"/>
<polyline points="72.2,260.7 73.1,261.7 75.7,267.5 78.5,266.5 81.0,264.3 83.6,260.0 86.0,259.5 88.0,262.0 90.2,253.0 92.2,258.2 94.5,264.5 97.2,259.5 99.3,259.0 101.0,257.5 103.5,255.7 106.0,257.0 109.7,255.7 113.5,257.0 116.0,255.7 119.5,253.2 121.5,258.2 124.0,257.0 126.2,251.5 128.5,260.7 131.0,263.2 133.3,258.6 135.5,266.0 138.0,272.0 140.4,276.6 142.7,280.0 145.4,284.0 148.1,287.4 150.8,292.1 153.5,296.8 155.5,298.8 157.5,294.8 159.5,293.5 161.5,298.8 163.6,302.9 165.6,304.2 167.6,302.9 169.6,308.3 171.6,311.6 173.6,308.9 175.7,306.2 177.7,308.9 179.7,314.3 181.1,306.9 183.1,302.2 185.1,301.5 187.1,304.2 189.1,302.2 191.1,298.2 193.2,300.2 195.2,301.5 197.2,303.6 199.2,298.8 201.2,295.5 202.6,296.2 204.6,298.2 207.3,296.8 210.0,294.8 212.7,292.8 214.7,290.8 216.7,286.7 218.7,282.7 220.8,281.3 222.5,279.5 223.0,276.8 225.0,269.4 226.6,266.7 228.4,269.4 230.4,265.4 232.4,262.0 234.4,261.3 236.4,260.0 238.4,260.7 241.1,258.6 243.2,255.3 244.9,255.3 246.5,260.7 248.5,262.7 250.6,262.0 252.0,262.2 254.0,266.2 256.1,268.9 258.1,267.6 260.1,265.6 261.8,264.2 263.5,266.2 265.1,266.9 266.4,271.6 268.2,266.2 269.9,263.6 271.3,268.9 272.6,275.0 274.2,277.7 275.8,279.7 277.6,283.7 278.9,289.1 280.3,293.2 282.3,295.2 284.3,293.8 286.3,291.8 288.4,296.5 290.4,293.2 292.8,291.8 295.1,296.5 296.0,298.7 298.5,301.2 301.5,296.2 304.7,297.5 307.2,301.2 309.7,300.0 312.2,303.7 314.7,305.0 317.2,298.2 318.0,296.5 320.0,295.2 322.2,299.5 324.7,294.5 326.7,293.2 328.7,296.5 331.4,293.2 333.2,291.8 334.5,289.1 336.1,293.2 338.8,293.8 341.5,293.2 344.2,291.8 346.9,293.2 349.9,290.5 352.2,285.0 355.2,279.5 357.0,268.2 360.7,263.2 364.5,258.2 368.2,254.5 371.5,252.5 374.0,258.2 376.5,252.0 379.5,259.5 382.0,262.5 385.7,260.0 389.0,262.0 392.0,262.5 395.0,259.3 396.6,258.0 398.4,264.0 400.4,267.4 402.4,269.4 403.7,268.1 405.8,272.8 407.4,282.9 409.7,290.0 412.2,288.7 414.7,293.7 417.2,296.2 421.0,295.0 422.5,297.0 424.5,306.2 427.0,308.7 430.7,311.2 434.5,308.7 438.2,311.2 442.0,310.0 445.7,311.2 449.5,316.2 453.2,312.5 457.0,313.7 460.7,310.0 463.2,312.5 467.0,311.2 470.7,315.0 474.5,308.7 478.2,317.0 480.7,310.0 483.2,303.7 485.7,297.5 488.2,291.2 490.7,282.5 491.9,279.5 494.2,269.5 496.7,259.5 498.5,258.2 500.5,267.0 503.0,272.0 506.7,274.5 509.2,277.5 512.5,275.0 515.5,277.5 518.0,276.5 521.7,279.7 524.5,281.0 527.0,283.5 529.5,286.2 532.0,292.5 534.0,297.4 538.0,303.5 540.8,310.2 542.8,307.5 546.2,316.2 548.8,319.6 552.2,325.0 555.6,326.3 561.0,325.7 563.6,323.6 565.7,325.7 569.0,327.5 573.0,332.4 577.1,335.0 581.1,337.8 581.8,339.5 583.8,333.0 585.9,329.0 588.5,327.7 590.6,337.0 592.6,329.0 595.7,326.3 598.6,333.5 601.3,328.4 605.4,323.6 608.0,325.7 610.8,322.8 616.1,321.6 618.5,319.0 620.0,312.5 622.5,306.2 625.0,302.0 628.0,298.7 631.0,297.5 634.2,295.5 636.7,300.0 639.2,304.5 643.0,302.0 646.7,302.5 650.5,301.2 653.5,303.7 656.7,310.0 659.2,309.5 661.7,315.0 663.5,318.7 665.5,316.2 667.5,315.0" fill="none" stroke="#5fc31e" stroke-width="2.75" stroke-linejoin="round" stroke-linecap="round"/>
<path d="M64.2 30.6V377" stroke="#d43842" stroke-width="1.7" fill="none"/>
<path d="M64.2 31.2h-3.5M64.2 117.2h-5.5M64.2 203.7h-3.5M64.2 290.2h-5.5M64.2 376.3h-3.5" stroke="#d43842" stroke-width="1.3" fill="none"/>
<path d="M676 30.6V377" stroke="#74cc3a" stroke-width="1.7" fill="none"/>
<path d="M676 31.2h5.5M676 117.2h3.5M676 203.7h5.5M676 290.2h3.5M676 376.3h5.5" stroke="#74cc3a" stroke-width="1.3" fill="none"/>
<path d="M71.4 376.5H668.2" stroke="#111" stroke-width="1.4" fill="none"/>
<path d="M72.3 376.5v5.9M138.4 376.5v3.4M204.6 376.5v5.9M270.7 376.5v3.4M336.8 376.5v5.9M403.0 376.5v3.4M469.1 376.5v5.9M535.2 376.5v3.4M601.4 376.5v5.9M667.5 376.5v3.4" stroke="#111" stroke-width="1.3" fill="none"/>
<text x="72.6" y="400.7" font-family="&quot;Liberation Sans&quot;, Arial, Helvetica, sans-serif" font-weight="bold" font-size="17.5" text-anchor="middle" fill="#111">0</text>
<text x="204.9" y="400.7" font-family="&quot;Liberation Sans&quot;, Arial, Helvetica, sans-serif" font-weight="bold" font-size="17.5" text-anchor="middle" fill="#111">10</text>
<text x="337.1" y="400.7" font-family="&quot;Liberation Sans&quot;, Arial, Helvetica, sans-serif" font-weight="bold" font-size="17.5" text-anchor="middle" fill="#111">20</text>
<text x="469.4" y="400.7" font-family="&quot;Liberation Sans&quot;, Arial, Helvetica, sans-serif" font-weight="bold" font-size="17.5" text-anchor="middle" fill="#111">30</text>
<text x="601.7" y="400.7" font-family="&quot;Liberation Sans&quot;, Arial, Helvetica, sans-serif" font-weight="bold" font-size="17.5" text-anchor="middle" fill="#111">40</text>
<text x="370.6" y="425" font-family="&quot;Liberation Sans&quot;, Arial, Helvetica, sans-serif" font-weight="bold" font-size="18.9" text-anchor="middle" fill="#111">time (min)</text>
<text x="53.4" y="123.6" font-family="&quot;Liberation Sans&quot;, Arial, Helvetica, sans-serif" font-weight="bold" font-size="17.5" text-anchor="end" fill="#cb0f19">1.3</text>
<text x="53.4" y="296.4" font-family="&quot;Liberation Sans&quot;, Arial, Helvetica, sans-serif" font-weight="bold" font-size="17.5" text-anchor="end" fill="#cb0f19">1.2</text>
<text x="685.4" y="37.4" font-family="&quot;Liberation Sans&quot;, Arial, Helvetica, sans-serif" font-weight="bold" font-size="17.5" text-anchor="start" fill="#5fc31e">1.9</text>
<text x="685.4" y="210.1" font-family="&quot;Liberation Sans&quot;, Arial, Helvetica, sans-serif" font-weight="bold" font-size="17.5" text-anchor="start" fill="#5fc31e">1.8</text>
<text x="685.4" y="383.0" font-family="&quot;Liberation Sans&quot;, Arial, Helvetica, sans-serif" font-weight="bold" font-size="17.5" text-anchor="start" fill="#5fc31e">1.7</text>
<text transform="translate(17.2 264) rotate(-90)" font-family="&quot;Liberation Sans&quot;, Arial, Helvetica, sans-serif" font-weight="bold" font-size="19" fill="#cb0f19">[Ca<tspan font-size="15" dy="-5.5">2+</tspan><tspan dy="5.5">]</tspan><tspan font-size="15" dy="3.2">cyt</tspan><tspan dy="-3.2"> ratio</tspan></text>
<text transform="translate(728.3 153.3) rotate(90)" font-family="&quot;Liberation Sans&quot;, Arial, Helvetica, sans-serif" font-weight="bold" font-size="18.6" fill="#5fc31e">[H<tspan font-size="14.6" dy="-5.5">+</tspan><tspan dy="5.5">]</tspan><tspan font-size="14.6" dy="4">cyt</tspan><tspan dy="-4"> ratio</tspan></text>
<text transform="translate(99 21.8) scale(0.82 1)" font-family="&quot;Liberation Sans&quot;, Arial, Helvetica, sans-serif" font-weight="bold" font-size="15" text-anchor="middle" fill="#111">low KCl</text>
<text transform="translate(171.5 21.8) scale(0.82 1)" font-family="&quot;Liberation Sans&quot;, Arial, Helvetica, sans-serif" font-weight="bold" font-size="15" text-anchor="middle" fill="#fff">high</text>
<text transform="translate(304.2 21.8) scale(0.82 1)" font-family="&quot;Liberation Sans&quot;, Arial, Helvetica, sans-serif" font-weight="bold" font-size="15" text-anchor="middle" fill="#fff">high</text>
<text transform="translate(436.5 21.8) scale(0.82 1)" font-family="&quot;Liberation Sans&quot;, Arial, Helvetica, sans-serif" font-weight="bold" font-size="15" text-anchor="middle" fill="#fff">high</text>
<text transform="translate(568.3 21.8) scale(0.82 1)" font-family="&quot;Liberation Sans&quot;, Arial, Helvetica, sans-serif" font-weight="bold" font-size="15" text-anchor="middle" fill="#fff">high</text>
<text transform="translate(236.5 21.8) scale(0.82 1)" font-family="&quot;Liberation Sans&quot;, Arial, Helvetica, sans-serif" font-weight="bold" font-size="15" text-anchor="middle" fill="#111">low</text>
<text transform="translate(369.5 21.8) scale(0.82 1)" font-family="&quot;Liberation Sans&quot;, Arial, Helvetica, sans-serif" font-weight="bold" font-size="15" text-anchor="middle" fill="#111">low</text>
<text transform="translate(501.3 21.8) scale(0.82 1)" font-family="&quot;Liberation Sans&quot;, Arial, Helvetica, sans-serif" font-weight="bold" font-size="15" text-anchor="middle" fill="#111">low</text>
<text transform="translate(641 21.8) scale(0.82 1)" font-family="&quot;Liberation Sans&quot;, Arial, Helvetica, sans-serif" font-weight="bold" font-size="15" text-anchor="middle" fill="#111">low</text>
</svg>
</body></html>
